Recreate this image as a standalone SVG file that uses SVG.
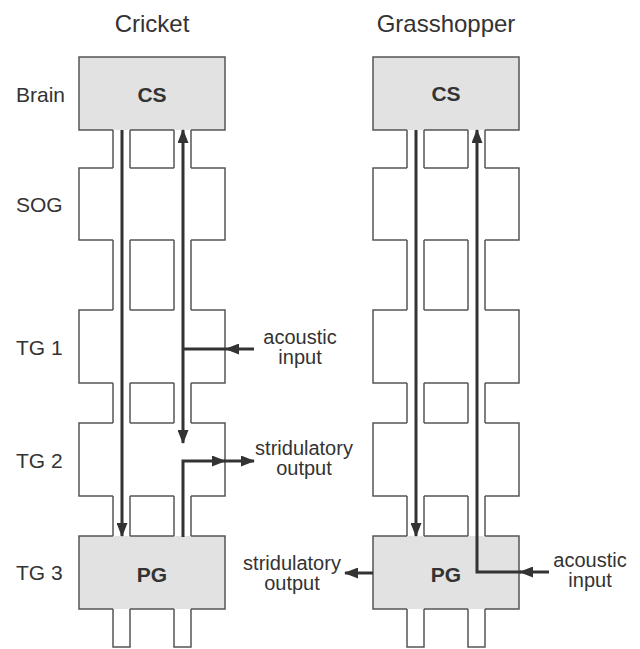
<svg xmlns="http://www.w3.org/2000/svg" width="640" height="649" viewBox="0 0 640 649">
<style>
.t{font-family:"Liberation Sans",Arial,sans-serif;fill:#333}
.title{font-size:24px;text-anchor:middle}
.side{font-size:21px}
.lbl{font-size:20px;text-anchor:middle}
.gl{font-size:21px;font-weight:bold;text-anchor:middle}
.ol{fill:none;stroke:#555;stroke-width:1.5}
.fillg{fill:#e2e2e2}
.ar{fill:none;stroke:#333;stroke-width:3}
</style>
<defs>
<marker id="ah" markerUnits="userSpaceOnUse" markerWidth="14" markerHeight="11" refX="13" refY="5.5" orient="auto-start-reverse" viewBox="0 0 14 11">
<path d="M0,0 L14,5.5 L0,11 z" fill="#333"/>
</marker>
<g id="column">
<rect class="fillg" x="79" y="57" width="146" height="73"/>
<rect class="fillg" x="79" y="536" width="146" height="73"/>
<path class="ol" d="M113,130 H79 V57 H225 V130 H191 M174,130 H130"/>
<path class="ol" d="M113,168 H79 V240 H113 M130,240 H174 M191,240 H225 V168 H191 M174,168 H130"/>
<path class="ol" d="M113,310 H79 V383 H113 M130,383 H174 M191,383 H225 V310 H191 M174,310 H130"/>
<path class="ol" d="M113,423 H79 V496 H113 M130,496 H174 M191,496 H225 V423 H191 M174,423 H130"/>
<path class="ol" d="M113,536 H79 V609 H113 M130,609 H174 M191,609 H225 V536 H191 M174,536 H130"/>
<path class="ol" d="M113,130 V168 M130,130 V168 M174,130 V168 M191,130 V168 M113,240 V310 M130,240 V310 M174,240 V310 M191,240 V310 M113,383 V423 M130,383 V423 M174,383 V423 M191,383 V423 M113,496 V536 M130,496 V536 M174,496 V536 M191,496 V536 M113,609 V647 H130 V609 M174,609 V647 H191 V609"/>
</g>
</defs>

<text class="t title" x="152" y="32">Cricket</text>
<text class="t title" x="446" y="32">Grasshopper</text>

<g id="labels">
<text class="t side" x="16" y="102">Brain</text>
<text class="t side" x="16" y="212">SOG</text>
<text class="t side" x="16" y="355">TG 1</text>
<text class="t side" x="16" y="468">TG 2</text>
<text class="t side" x="16" y="580">TG 3</text>
</g>

<g id="cricket">
<use href="#column"/>
<g id="cricket-CS"><text class="t gl" x="152" y="102">CS</text></g>
<g id="cricket-PG"><text class="t gl" x="152" y="582">PG</text></g>
</g>

<g id="grasshopper">
<use href="#column" transform="translate(294,0)"/>
<g id="grasshopper-CS"><text class="t gl" x="446" y="101">CS</text></g>
<g id="grasshopper-PG"><text class="t gl" x="446" y="582">PG</text></g>
</g>

<g id="connectors">
<path class="ar" d="M122,130 V536" marker-end="url(#ah)"/>
<path class="ar" d="M183,443 V130" marker-start="url(#ah)" marker-end="url(#ah)"/>
<path class="ar" d="M254,349 H226" marker-end="url(#ah)"/>
<path class="ar" d="M226,349 H183"/>
<path class="ar" d="M183,537 V461 H225" marker-end="url(#ah)"/>
<path class="ar" d="M224,461 H254" marker-end="url(#ah)"/>
<path class="ar" d="M416,130 V536" marker-end="url(#ah)"/>
<path class="ar" d="M549,572 H520" marker-end="url(#ah)"/>
<path class="ar" d="M521,572 H477 V130" marker-end="url(#ah)"/>
<path class="ar" d="M373,573 H345" marker-end="url(#ah)"/>
</g>

<g id="annotations">
<text class="t lbl" x="300" y="344">acoustic</text>
<text class="t lbl" x="300" y="364">input</text>
<text class="t lbl" x="304" y="455">stridulatory</text>
<text class="t lbl" x="304" y="475">output</text>
<text class="t lbl" x="292" y="570">stridulatory</text>
<text class="t lbl" x="292" y="590">output</text>
<text class="t lbl" x="590" y="567">acoustic</text>
<text class="t lbl" x="590" y="587">input</text>
</g>
</svg>
